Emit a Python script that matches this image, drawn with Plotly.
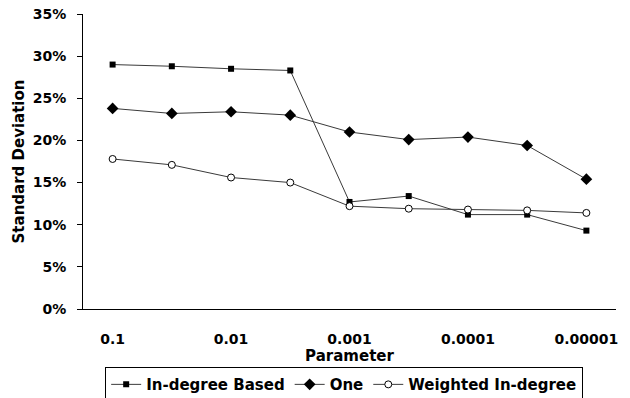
import plotly.graph_objects as go

params = ["0.1", "0.05", "0.01", "0.005", "0.001", "0.0005", "0.0001", "0.00005", "0.00001"]
tick_labels = ["0.1", "0.01", "0.001", "0.0001", "0.00001"]
indegree_based = [0.290, 0.288, 0.285, 0.283, 0.127, 0.134, 0.112, 0.112, 0.093]
one = [0.238, 0.232, 0.234, 0.230, 0.210, 0.201, 0.204, 0.194, 0.154]
weighted_indegree = [0.178, 0.171, 0.156, 0.150, 0.122, 0.119, 0.118, 0.117, 0.114]

FONT = "DejaVu Sans"
LINE = "#3a3a3a"

fig = go.Figure()
fig.add_trace(go.Scatter(x=params, y=indegree_based, name="In-degree Based", mode="lines+markers",
                         line=dict(color=LINE, width=1),
                         marker=dict(symbol="square", size=6, color="black")))
fig.add_trace(go.Scatter(x=params, y=one, name="One", mode="lines+markers",
                         line=dict(color=LINE, width=1),
                         marker=dict(symbol="diamond", size=9, color="black")))
fig.add_trace(go.Scatter(x=params, y=weighted_indegree, name="Weighted In-degree", mode="lines+markers",
                         line=dict(color=LINE, width=1),
                         marker=dict(symbol="circle", size=7, color="white", line=dict(color="black", width=1))))

fig.update_layout(
    width=630, height=398,
    margin=dict(l=83, r=14, t=14, b=89, autoexpand=False),
    paper_bgcolor="white", plot_bgcolor="white",
    font=dict(family=FONT, color="black", size=14, weight="bold"),
    showlegend=True,
    legend=dict(orientation="h", x=0.49, xanchor="center", y=-0.197, yanchor="top",
                bordercolor="black", borderwidth=1, bgcolor="white",
                font=dict(family=FONT, size=15, weight="bold"),
                itemwidth=30, tracegroupgap=0),
)
fig.update_xaxes(
    type="category", categoryorder="array", categoryarray=params,
    tickmode="array", tickvals=tick_labels, ticktext=tick_labels,
    range=[-0.5, 8.5],
    showline=True, linecolor="black", linewidth=1, mirror=False,
    showgrid=False, zeroline=False, ticks="",
    ticklabelstandoff=17,
    tickfont=dict(family=FONT, size=14, weight="bold"),
    title=dict(text="Parameter", font=dict(family=FONT, size=15, weight="bold"), standoff=4),
)
fig.update_yaxes(
    range=[0, 0.35], dtick=0.05, tickformat=".0%",
    showline=True, linecolor="black", linewidth=1,
    showgrid=False, zeroline=False,
    ticks="outside", ticklen=5, tickcolor="black",
    ticklabelstandoff=8,
    tickfont=dict(family=FONT, size=14, weight="bold"),
    title=dict(text="Standard Deviation", font=dict(family=FONT, size=15, weight="bold"), standoff=4),
)

fig.write_html("out.html")
